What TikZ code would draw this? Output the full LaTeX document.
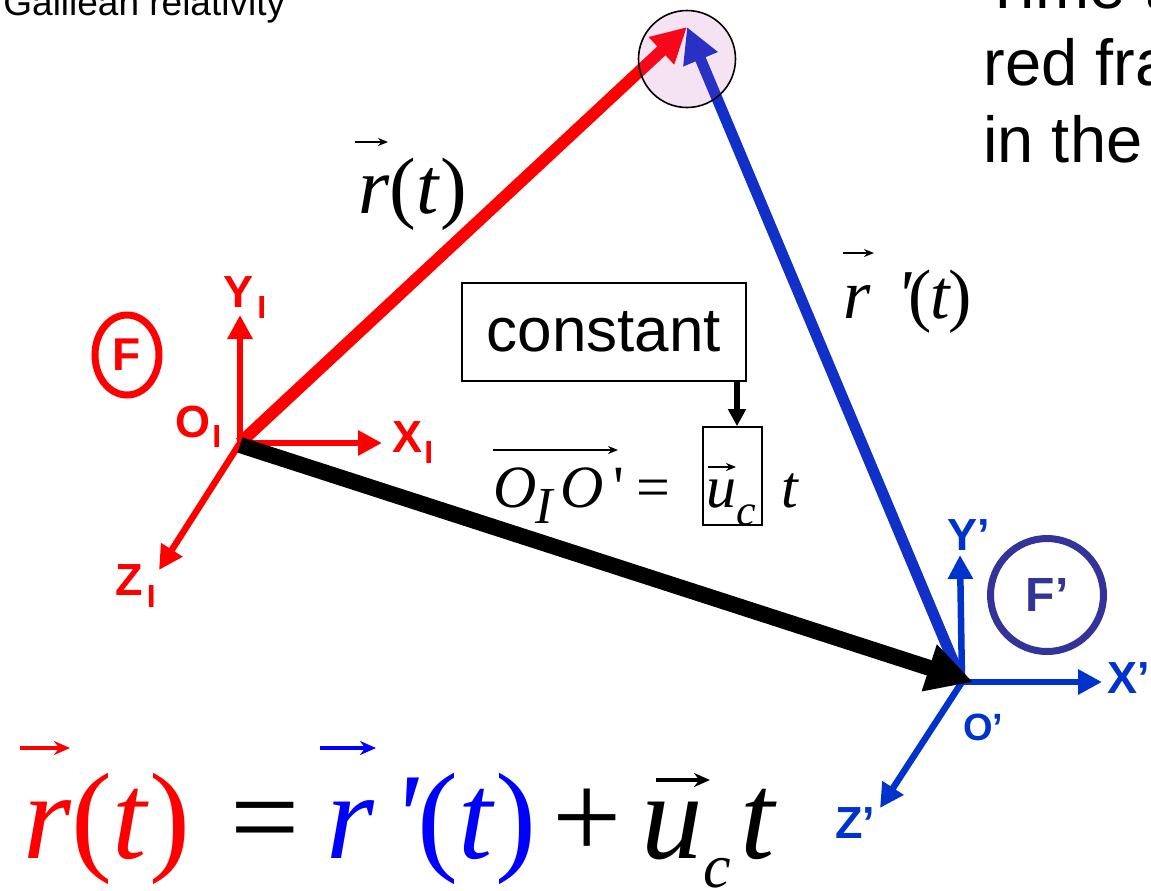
\documentclass[tikz,border=0pt]{standalone}
\usepackage{fontspec}
\setmainfont{Liberation Sans}
\newfontfamily\tms{Liberation Serif}
\usetikzlibrary{arrows.meta,shapes.geometric}
\definecolor{fred}{RGB}{255,0,0}
\definecolor{fblue}{RGB}{0,51,204}
\definecolor{vblue}{RGB}{16,48,200}
\definecolor{fpurple}{RGB}{51,51,153}
\definecolor{eqblue}{RGB}{0,0,255}
\definecolor{pinkfill}{RGB}{185,60,175}
\newcommand\myfs[1]{\fontsize{#1pt}{#1pt}\selectfont}
\begin{document}
\begin{tikzpicture}[x=0.5pt,y=-0.5pt,
  lbl/.style={inner sep=0pt, anchor=base west},
  axr/.style={draw=fred, line width=3.25pt, -{Triangle[length=12pt,width=12pt]}},
  axb/.style={draw=fblue, line width=3.25pt, -{Triangle[length=12pt,width=12pt]}},
  bigr/.style={draw=fred, line width=6pt, -{Triangle[length=17.5pt,width=17.5pt]}},
  bigb/.style={draw=vblue, line width=5.5pt, -{Triangle[length=17.5pt,width=17.5pt]}},
  bigk/.style={draw=black, line width=8pt, -{Triangle[length=23pt,width=23pt]}},
  vecar/.style={line width=1pt, -{Stealth[length=5pt,width=4pt]}},
  vecbig/.style={line width=1.6pt, -{Stealth[length=8pt,width=7pt]}},
  redlbl/.style={lbl, text=fred, font={\bfseries\myfs{22.5}}},
  bluelbl/.style={lbl, text=fblue, font={\bfseries\myfs{22.5}}},
]
\useasboundingbox (0,0) rectangle (1151,890);
\clip (0,0) rectangle (1151,890);

% top texts (cut by the frame)
\node[lbl, font=\myfs{18.5}] (title) at (3,15) {Galilean relativity};
\node[lbl, font=\myfs{32.5}] (side1) at (983,8) {Time t};
\node[lbl, font=\myfs{32.5}] (side2) at (983,85) {red fra};
\node[lbl, font=\myfs{32.5}] (side3) at (983,162) {in the};

% points
\coordinate (OI) at (240,443);
\coordinate (OP) at (962,682);
\coordinate (P) at (687,27);
\coordinate (YI) at (240,315);
\coordinate (XI) at (382,443);
\coordinate (ZI) at (159,570);
\coordinate (YP) at (960,555);
\coordinate (XP) at (1102,682);
\coordinate (ZP) at (880,808);

% axes
\draw[axr] (OI) -- (YI);
\draw[axr] (OI) -- (XI);
\draw[axr] (OI) -- (ZI);
\draw[axb] (OP) -- (YP);
\draw[axb] (OP) -- (XP);
\draw[axb] (OP) -- (ZP);

% position vectors
\draw[bigr] (OI) -- (P);
\draw[bigb] (OP) -- (P);
\draw[bigk] ([yshift=-1pt]OI) -- ([xshift=5.5pt]OP);

% highlighted point
\node[circle, minimum size=48.5pt, inner sep=0pt, fill=pinkfill, fill opacity=0.15, draw=black, draw opacity=1, line width=0.8pt] (pt) at (687,59) {};

% frame labels
\node[ellipse, draw=fred, line width=3.5pt, minimum width=32pt, minimum height=40pt, inner sep=0pt, text=fred, font={\bfseries\myfs{23}}] (F) at (127,355) {F};
\node[circle, draw=fpurple, line width=3.5pt, minimum size=56.5pt, inner sep=0pt, text=fpurple, font={\bfseries\myfs{24}}] (Fp) at (1047,595) {F’};

\node[redlbl] (lYI) at (223,307) {Y\kern2pt\raisebox{-5.5pt}{\myfs{16}I}};
\node[redlbl] (lXI) at (392,452) {X\kern1pt\raisebox{-5.5pt}{\myfs{16}I}};
\node[redlbl] (lZI) at (115,595) {Z\kern2pt\raisebox{-6pt}{\myfs{16}I}};
\node[redlbl] (lOI) at (175,437) {O\kern1pt\raisebox{-5pt}{\myfs{16}I}};
\node[bluelbl] (lYP) at (947,550) {Y’};
\node[bluelbl] (lXP) at (1107,693) {X’};
\node[bluelbl] (lZP) at (835,838) {Z’};
\node[bluelbl, font={\bfseries\myfs{19}}] (lOP) at (963,740) {O’};

% vector labels
\node[lbl, font={\tms\myfs{40}}] (rt) at (358,213) {\textit{r}(\textit{t})};
\draw[vecar] (355,142) -- (388,142);
\node[lbl, font={\tms\myfs{35}}] (rpt) at (843,318) {\textit{r}\kern13pt\textit{\symbol{39}}\kern-2pt(\kern-1pt\textit{t}\kern-1pt)};
\draw[vecar] (843,253) -- (874,253);

% constant box and O_I O' formula
\node[draw, line width=1pt, minimum width=142pt, minimum height=49pt, inner sep=0pt, font=\myfs{31}] (cbox) at (604,332) {constant};
\node[draw, line width=0.8pt, minimum width=29.5pt, minimum height=49pt, inner sep=0pt] (ucbox) at (732.5,476) {};
\coordinate (ua) at ([xshift=2.25pt]ucbox.north);
\draw[line width=3pt, -{Triangle[length=8.5pt,width=8.5pt]}] (ua |- cbox.south) -- (ua);

\node[lbl, font={\tms\myfs{30}}] (oo) at (493,507) {\textit{O}\kern-0.5pt\raisebox{-8pt}{\myfs{26}\textit{I}}\kern2.5pt\textit{O}\kern5pt\symbol{39}\kern6pt=\kern18pt\textit{u}\raisebox{-9pt}{\myfs{22}\textit{c}}\kern12.75pt\textit{t}};
\draw[line width=0.75pt, -{Stealth[length=5pt,width=4pt]}] (493,450) -- (618,450);
\draw[line width=0.75pt, -{Stealth[length=5pt,width=4pt]}] (708,467) -- (736,467);

% main equation
\node[lbl, font={\tms\myfs{61.5}}] (eq) at (23,858) {{\color{fred}\textit{r}(\textit{t})}\kern20pt=\kern13.5pt{\color{eqblue}\textit{r}\kern8.5pt\textit{\symbol{39}}\kern-1pt(\textit{t})}\kern8pt+\kern10pt\textit{u}\raisebox{-14.5pt}{\myfs{31}\textit{c}}\kern5pt\textit{t}};
\draw[vecbig, fred] (20,748) -- (70,748);
\draw[vecbig, eqblue] (320,748) -- (376,748);
\draw[vecbig, black] (656,780) -- (710,780);
\end{tikzpicture}
\end{document}
